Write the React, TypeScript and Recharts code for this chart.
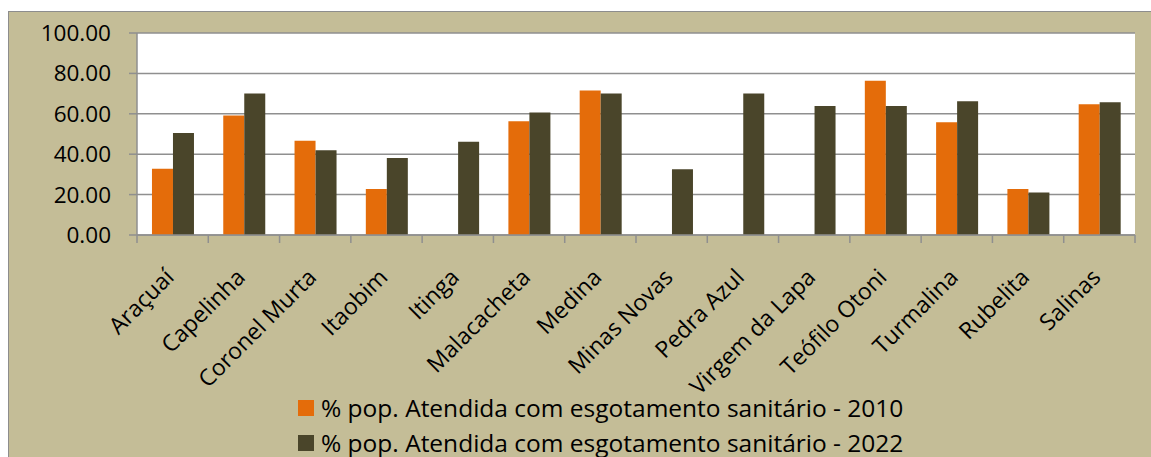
import React from 'react';
import { BarChart, Bar, XAxis, YAxis, CartesianGrid, Legend } from 'recharts';

// ── data ─────────────────────────────────────────────────────────────────────

const CATEGORIES = [
  'Araçuaí', 'Capelinha', 'Coronel Murta', 'Itaobim', 'Itinga', 'Malacacheta', 'Medina',
  'Minas Novas', 'Pedra Azul', 'Virgem da Lapa', 'Teófilo Otoni', 'Turmalina', 'Rubelita', 'Salinas',
];
const POP_2010 = [32.8, 59.1, 46.7, 22.8, null, 56.3, 71.5, null, null, null, 76.3, 55.8, 22.8, 64.7];
const POP_2022 = [50.5, 70.0, 41.9, 38.1, 46.2, 60.6, 70.0, 32.5, 70.0, 63.8, 63.8, 66.2, 21.0, 65.7];
const Y_TICKS = [0, 20, 40, 60, 80, 100];
const SERIES_2010 = '% pop. Atendida com esgotamento sanitário - 2010';
const SERIES_2022 = '% pop. Atendida com esgotamento sanitário - 2022';

const data = CATEGORIES.map((c, i) => ({ name: c, a: POP_2010[i], b: POP_2022[i] }));

// ── style ────────────────────────────────────────────────────────────────────

const W = 1151;
const H = 457;
const X_H = 30;
const MARGIN = { top: 33, right: 16, bottom: 222 - X_H, left: 57 };
const Y_W = 80;
const PLOT_W = W - MARGIN.left - Y_W - MARGIN.right;
const BAND = PLOT_W / CATEGORIES.length;
const FONT = "'Open Sans', sans-serif";
const GRAY = '#8f8f8f';
const ORANGE = '#E46C0A';
const OLIVE = '#4A452A';

function CatTick(props: any) {
  const { x, y, payload, index } = props;
  const left = x - BAND / 2;
  const ax = x - 3;
  const ay = y + 38;
  return (
    <g>
      <line x1={left} y1={y} x2={left} y2={y + 8} stroke={GRAY} strokeWidth={1.5} />
      {index === CATEGORIES.length - 1 && (
        <line x1={x + BAND / 2} y1={y} x2={x + BAND / 2} y2={y + 8} stroke={GRAY} strokeWidth={1.5} />
      )}
      <text
        x={ax}
        y={ay}
        dy="0.35em"
        textAnchor="end"
        fill="#000"
        fontSize={23}
        fontFamily={FONT}
        transform={`rotate(-45, ${ax}, ${ay})`}
      >
        {payload.value}
      </text>
    </g>
  );
}

function LegendBox() {
  const items = [
    { label: SERIES_2010, color: ORANGE },
    { label: SERIES_2022, color: OLIVE },
  ];
  return (
    <div style={{ fontFamily: FONT, fontSize: 24.5, color: '#000' }}>
      {items.map(it => (
        <div key={it.label} style={{ display: 'flex', alignItems: 'center', height: 35 }}>
          <span style={{ width: 16, height: 16, background: it.color, marginRight: 7, flexShrink: 0 }} />
          <span style={{ whiteSpace: 'nowrap' }}>{it.label}</span>
        </div>
      ))}
    </div>
  );
}

export default function App() {
  return (
    <div style={{ position: 'absolute', left: 0, top: 0, width: W, height: H, overflow: 'hidden', background: '#fff' }}>
      <div
        style={{
          position: 'absolute', left: 8, top: 11, width: W + 20, height: H + 20,
          background: '#C4BD97', border: '1.5px solid #8d8d8d', boxSizing: 'border-box',
        }}
      />
      <div style={{ position: 'absolute', left: 0, top: 0 }}>
        <BarChart width={W} height={H} data={data} margin={MARGIN} barCategoryGap="21%" barGap={0}>
          <CartesianGrid vertical={false} fill="#fff" stroke={GRAY} strokeWidth={1.5} />
          <XAxis
            dataKey="name"
            height={X_H}
            interval={0}
            tickSize={0}
            tickMargin={0}
            axisLine={{ stroke: GRAY, strokeWidth: 1.5 }}
            tick={<CatTick />}
          />
          <YAxis
            width={Y_W}
            domain={[0, 100]}
            ticks={Y_TICKS}
            tickFormatter={(v: number) => v.toFixed(2)}
            tickSize={8}
            tickMargin={18}
            axisLine={{ stroke: GRAY, strokeWidth: 1.5 }}
            tickLine={{ stroke: GRAY, strokeWidth: 1.5 }}
            tick={{ fill: '#000', fontSize: 22.5, fontFamily: FONT }}
          />
          <Legend
            layout="vertical"
            align="center"
            verticalAlign="middle"
            content={<LegendBox />}
            wrapperStyle={{ left: 298, top: 390, width: 800 }}
          />
          <Bar dataKey="a" name={SERIES_2010} fill={ORANGE} isAnimationActive={false} />
          <Bar dataKey="b" name={SERIES_2022} fill={OLIVE} isAnimationActive={false} />
        </BarChart>
      </div>
    </div>
  );
}
